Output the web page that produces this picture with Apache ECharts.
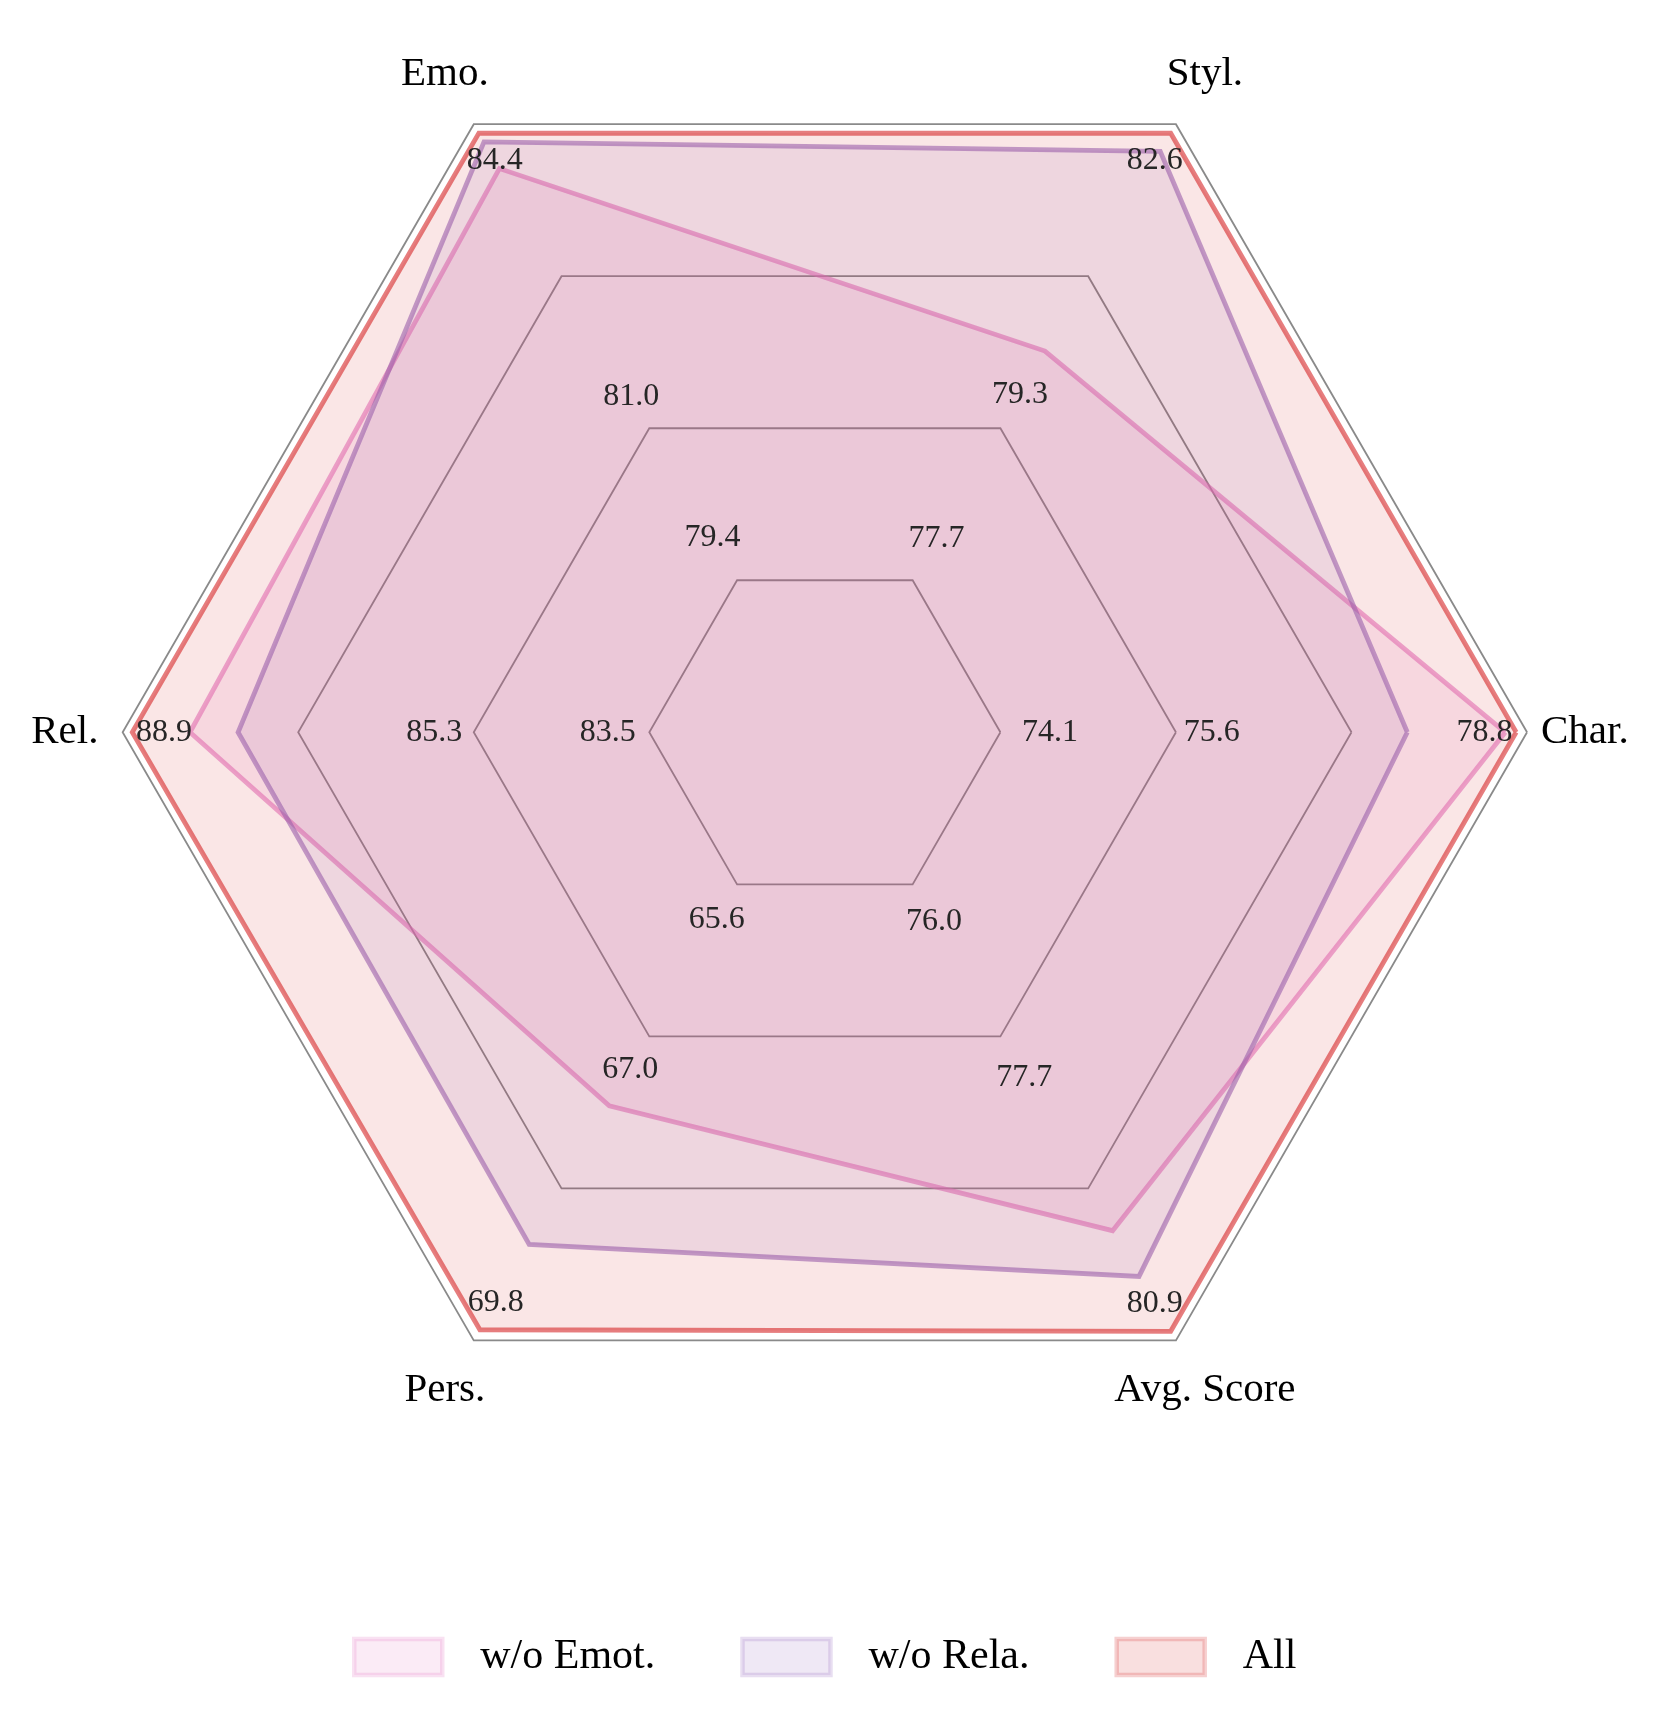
<!DOCTYPE html>
<html>
<head>
<meta charset="utf-8">
<script src="https://cdn.jsdelivr.net/npm/echarts@6/dist/echarts.min.js"></script>
<style>
  html, body { margin: 0; padding: 0; background: #ffffff; }
  #chart { width: 1660px; height: 1726px; }
</style>
</head>
<body>
<div id="chart"></div>
<script>
// ---- data ----
const categories = ['Char.', 'Styl.', 'Emo.', 'Rel.', 'Pers.', 'Avg. Score'];
const axisMin = [72.45, 76.0, 77.65, 81.7, 64.2, 74.35];
const axisMax = [78.9, 82.7, 84.5, 89.0, 69.9, 81.0];
const seriesNames = ['w/o Emot.', 'w/o Rela.', 'All'];
const woEmot = [78.7, 80.2, 84.0, 88.3, 67.7, 79.8];
const woRela = [77.8, 82.4, 84.3, 87.8, 69.0, 80.3];
const allScores = [78.8, 82.6, 84.4, 88.9, 69.8, 80.9];
const ringOneLabels = [74.1, 77.7, 79.4, 83.5, 65.6, 76.0];
const ringTwoLabels = [75.6, 79.3, 81.0, 85.3, 67.0, 77.7];

// ---- styling ----
const FONT = 'Liberation Serif';
const CENTER = [824.85, 732.3];
const RADIUS = 702.2;
const baseColors = [[227, 119, 194], [148, 103, 189], [214, 39, 40]];
const rgba = (c, a) => `rgba(${c[0]},${c[1]},${c[2]},${a})`;

const indicator = categories.map((n, i) => ({ name: n, min: axisMin[i], max: axisMax[i] }));

function hiddenRadar(radius) {
  return {
    indicator: indicator,
    center: CENTER,
    radius: radius,
    startAngle: 0,
    shape: 'polygon',
    splitNumber: 4,
    axisName: { show: false },
    axisLine: { show: false },
    axisTick: { show: false },
    axisLabel: { show: false },
    splitLine: { show: false },
    splitArea: { show: false },
    silent: true
  };
}

const radars = [
  {
    indicator: indicator,
    center: CENTER,
    radius: RADIUS,
    startAngle: 0,
    shape: 'polygon',
    splitNumber: 4,
    axisName: { show: false },
    axisLine: { show: false },
    axisTick: { show: false },
    axisLabel: { show: false },
    splitArea: { show: false },
    splitLine: { show: true, lineStyle: { color: 'rgba(125,125,125,0.9)', width: 1.8 } }
  },
  hiddenRadar(880),   // ring 1 labels
  hiddenRadar(792),   // ring 2 labels
  hiddenRadar(670),   // "All" value labels
  hiddenRadar(760)    // axis names
];

const mainData = [woEmot, woRela, allScores];
const mainSeries = mainData.map((vals, i) => ({
  type: 'radar',
  name: seriesNames[i],
  radarIndex: 0,
  symbol: 'none',
  silent: true,
  z: 2,
  lineStyle: { color: rgba(baseColors[i], 0.6), width: 4.8, join: 'miter' },
  areaStyle: { color: rgba(baseColors[i], 0.17) },
  itemStyle: { color: rgba(baseColors[i], 0.6) },
  emphasis: { disabled: true },
  data: [{ value: vals, name: seriesNames[i] }]
}));

function labelSeries(radarIndex, vals, fontSize, color, formatter) {
  return {
    type: 'radar',
    radarIndex: radarIndex,
    silent: true,
    z: 5,
    symbol: 'circle',
    symbolSize: 1,
    itemStyle: { color: 'rgba(0,0,0,0)' },
    lineStyle: { width: 0, opacity: 0 },
    emphasis: { disabled: true },
    label: {
      show: true,
      position: 'inside',
      color: color,
      fontFamily: FONT,
      fontSize: fontSize,
      formatter: formatter
    },
    data: [{ value: vals }]
  };
}

const fmt1 = p => Number(p.value).toFixed(1);

const option = {
  backgroundColor: '#ffffff',
  animation: false,
  radar: radars,
  legend: {
    data: seriesNames.map((n, i) => ({
      name: n,
      icon: 'rect',
      itemStyle: { color: rgba(baseColors[i], 0.15), borderColor: rgba(baseColors[i], 0.22), borderWidth: 4.5 }
    })),
    left: 347,
    top: 1631,
    itemWidth: 88,
    itemHeight: 36,
    itemGap: 85,
    selectedMode: false,
    textStyle: { fontFamily: FONT, fontSize: 42, color: '#000', padding: [0, 0, 0, 33] }
  },
  series: [
    ...mainSeries,
    labelSeries(1, ringOneLabels, 32, '#262626', fmt1),
    labelSeries(2, ringTwoLabels, 32, '#262626', fmt1),
    labelSeries(3, allScores, 32, '#262626', fmt1),
    labelSeries(4, axisMax, 41, '#000000', p => categories[axisMax.indexOf(p.value)])
  ]
};

const chart = echarts.init(document.getElementById('chart'), null, { renderer: 'canvas' });
chart.setOption(option);
</script>
</body>
</html>
